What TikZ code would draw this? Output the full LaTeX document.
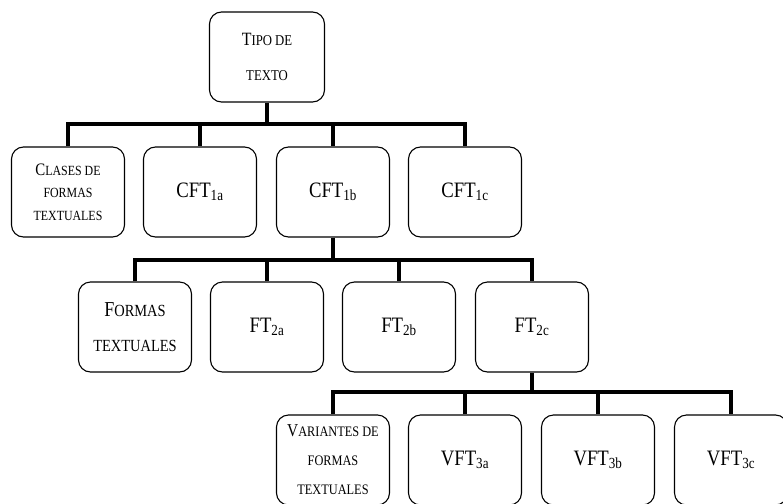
\documentclass[tikz,border=0pt]{standalone}
\usepackage{fontspec}
\setmainfont{Liberation Serif}[FakeStretch=0.85]
\usepackage{graphicx}

\newcommand\scinit[1]{\scalebox{1.25}{#1}}

\tikzset{
    box/.style={draw, line width=1.1pt, rounded corners=12pt, minimum width=113pt,
        minimum height=90pt, align=center, inner sep=2pt, font=\fontsize{22}{24}\selectfont},
    conn/.style={line width=4pt},
}

\begin{document}
\begin{tikzpicture}[x=1pt,y=-1pt]
    \useasboundingbox (0,0) rectangle (783,503);

    \coordinate (bus1) at (0,124);
    \coordinate (bus2) at (0,260);
    \coordinate (bus3) at (0,392);

    % tipo de texto
    \node[box, minimum width=115pt, font=\fontsize{15}{35}\selectfont] (tipo) at (267,57) {\scinit{T}IPO DE\\TEXTO};

    % clases de formas textuales
    \node[box, font=\fontsize{14}{22.5}\selectfont] (clases) at (68,192) {\scinit{C}LASES DE\\FORMAS\\TEXTUALES};
    \node[box] (cfta) at (200,192) {CFT\textsubscript{1a}};
    \node[box] (cftb) at (333,192) {CFT\textsubscript{1b}};
    \node[box] (cftc) at (465,192) {CFT\textsubscript{1c}};

    % formas textuales
    \node[box, font=\fontsize{17}{35}\selectfont] (formas) at (135,327) {\scinit{F}ORMAS\\TEXTUALES};
    \node[box] (fta) at (267,327) {FT\textsubscript{2a}};
    \node[box] (ftb) at (399,327) {FT\textsubscript{2b}};
    \node[box] (ftc) at (532,327) {FT\textsubscript{2c}};

    % variantes de formas textuales
    \node[box, font=\fontsize{14.5}{29}\selectfont] (variantes) at (333,460) {\scinit{V}ARIANTES DE\\FORMAS\\TEXTUALES};
    \node[box] (vfta) at (465,460) {VFT\textsubscript{3a}};
    \node[box] (vftb) at (598,460) {VFT\textsubscript{3b}};
    \node[box] (vftc) at (731,460) {VFT\textsubscript{3c}};

    \draw[conn] (tipo.south) -- (tipo.south |- bus1);
    \draw[conn] (clases.north) |- (cftc.north |- bus1) -- (cftc.north);
    \draw[conn] (cfta.north) -- (cfta.north |- bus1);
    \draw[conn] (cftb.north) -- (cftb.north |- bus1);

    \draw[conn] (cftb.south) -- (cftb.south |- bus2);
    \draw[conn] (formas.north) |- (ftc.north |- bus2) -- (ftc.north);
    \draw[conn] (fta.north) -- (fta.north |- bus2);
    \draw[conn] (ftb.north) -- (ftb.north |- bus2);

    \draw[conn] (ftc.south) -- (ftc.south |- bus3);
    \draw[conn] (variantes.north) |- (vftc.north |- bus3) -- (vftc.north);
    \draw[conn] (vfta.north) -- (vfta.north |- bus3);
    \draw[conn] (vftb.north) -- (vftb.north |- bus3);

\end{tikzpicture}
\end{document}
